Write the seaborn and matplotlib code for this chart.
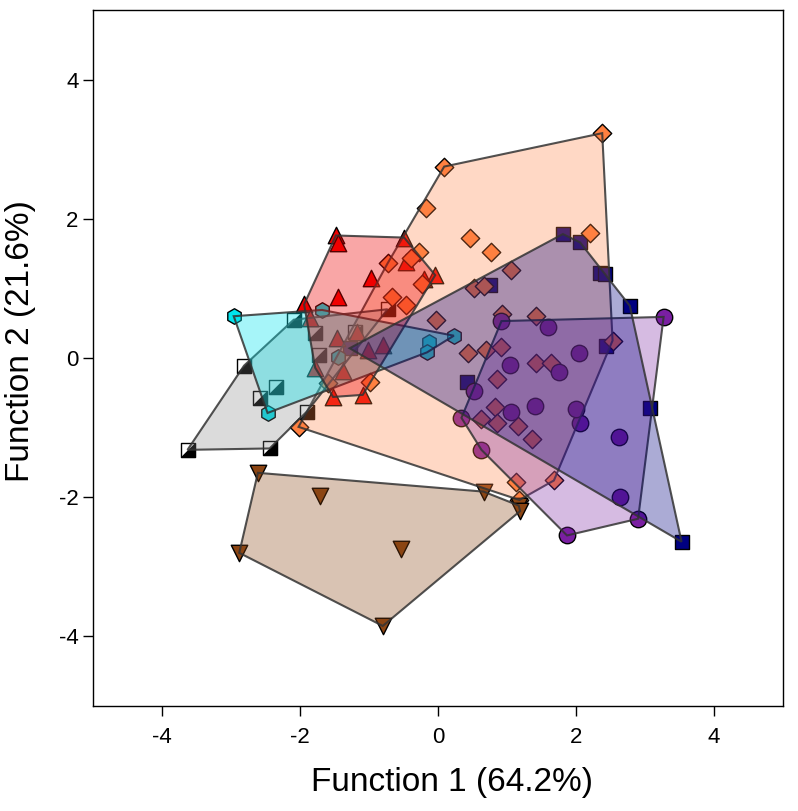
import numpy as np
import pandas as pd
import matplotlib
matplotlib.use("Agg")
import matplotlib.pyplot as plt
import matplotlib.colors as mcolors
from matplotlib.path import Path
from matplotlib.patches import Polygon
import seaborn as sns

# discriminant scores, one pair of lists per group
orange_x = [2.38, 0.09, -0.17, 0.47, 0.77, 2.21, -0.27, -0.39, -0.73, -0.23, -0.67, -0.46,
            -0.03, 1.06, 0.52, 0.67, 0.93, 1.42, 0.44, 0.70, 0.92, 1.42, 1.64, 0.85,
            0.83, 0.63, 0.86, 1.16, 1.36, 1.13, 1.68, 1.18, 2.53, -0.98, -1.60, -2.02]
orange_y = [3.23, 2.75, 2.16, 1.73, 1.52, 1.79, 1.52, 1.43, 1.36, 1.07, 0.87, 0.76,
            0.54, 1.26, 1.00, 1.03, 0.63, 0.61, 0.07, 0.11, 0.16, -0.07, -0.07, -0.30,
            -0.70, -0.88, -0.94, -0.98, -1.16, -1.78, -1.76, -2.04, 0.25, -0.35, -0.36, -0.99]

red_x = [-1.48, -1.45, -0.49, -0.97, -1.45, -1.94, -1.86, -0.46, -0.04, -0.20, -1.18,
         -1.46, -1.02, -0.80, -1.78, -1.38, -1.52, -1.09]
red_y = [1.76, 1.65, 1.73, 1.15, 0.88, 0.77, 0.57, 1.38, 1.19, 1.13, 0.37,
         0.29, 0.12, 0.19, -0.14, -0.18, -0.56, -0.53]

cyan_x = [-2.96, -2.47, -1.68, -1.45, 0.23, -0.13, -0.16]
cyan_y = [0.60, -0.79, 0.69, 0.02, 0.32, 0.23, 0.08]

half_x = [-3.63, -2.44, -2.81, -2.58, -2.35, -2.09, -1.90, -1.78, -1.73, -0.73, -1.20]
half_y = [-1.32, -1.30, -0.11, -0.57, -0.42, 0.55, -0.77, 0.36, 0.04, 0.70, 0.37]

brown_x = [-2.61, -1.71, -2.88, -0.53, -0.80, 0.66, 1.17, 1.19]
brown_y = [-1.65, -1.99, -2.80, -2.75, -3.85, -1.92, -2.12, -2.20]

purple_x = [3.27, 2.90, 1.87, 2.64, 2.62, 2.06, 2.00, 2.05, 1.75, 1.59, 0.92, 1.05,
            0.52, 1.40, 1.06, 0.34, 0.63]
purple_y = [0.59, -2.31, -2.55, -2.00, -1.14, -0.93, -0.73, 0.07, -0.20, 0.45, 0.53, -0.10,
            -0.48, -0.69, -0.78, -0.86, -1.32]

navy_x = [3.53, 3.07, 2.78, 2.44, 2.35, 2.42, 1.81, 2.06, 0.76, 0.42, -1.28]
navy_y = [-2.64, -0.72, 0.75, 0.17, 1.22, 1.20, 1.78, 1.66, 1.05, -0.34, 0.14]

frames = []
for name, xs, ys in [("orange", orange_x, orange_y), ("red", red_x, red_y),
                     ("cyan", cyan_x, cyan_y), ("half", half_x, half_y),
                     ("brown", brown_x, brown_y), ("purple", purple_x, purple_y),
                     ("navy", navy_x, navy_y)]:
    frames.append(pd.DataFrame({"f1": xs, "f2": ys, "group": name}))
df = pd.concat(frames, ignore_index=True)

colors = {"orange": "#ff8040", "red": "#f00000", "cyan": "#00e5ee", "half": "#808080",
          "brown": "#8b4513", "purple": "#7a1fa2", "navy": "#000080"}
hull_alpha = {"orange": 0.3, "red": 0.35, "cyan": 0.35, "half": 0.28,
              "brown": 0.32, "purple": 0.3, "navy": 0.33}
markers = {"orange": "D", "red": "^", "cyan": "h", "half": "s",
           "brown": "v", "purple": "o", "navy": "s"}
sizes = {"orange": 88, "red": 140, "cyan": 125, "half": 100,
         "brown": 140, "purple": 140, "navy": 105}


def convex_hull(pts):
    pts = sorted(set(map(tuple, pts)))
    def cross(o, a, b):
        return (a[0] - o[0]) * (b[1] - o[1]) - (a[1] - o[1]) * (b[0] - o[0])
    lower, upper = [], []
    for p in pts:
        while len(lower) >= 2 and cross(lower[-2], lower[-1], p) <= 0:
            lower.pop()
        lower.append(p)
    for p in reversed(pts):
        while len(upper) >= 2 and cross(upper[-2], upper[-1], p) <= 0:
            upper.pop()
        upper.append(p)
    return np.array(lower[:-1] + upper[:-1])


sns.set_style("ticks")
plt.rcParams["font.family"] = ["Liberation Sans", "DejaVu Sans"]
plt.rcParams["axes.unicode_minus"] = False
plt.rcParams["text.color"] = "black"
plt.rcParams["axes.labelcolor"] = "black"
plt.rcParams["xtick.color"] = "black"
plt.rcParams["ytick.color"] = "black"

fig = plt.figure(figsize=(7.98, 8.11), dpi=100)
ax = fig.add_axes([0.1165, 0.1295, 0.8647, 0.8582])

# points first
half_tri = Path([(-1, -1), (1, -1), (1, 1), (-1, -1)],
                [Path.MOVETO, Path.LINETO, Path.LINETO, Path.CLOSEPOLY])
for g in ["navy", "half", "cyan", "red", "orange", "brown", "purple"]:
    sub = df[df["group"] == g]
    if g == "half":
        sns.scatterplot(data=sub, x="f1", y="f2", marker="s", s=sizes[g], color="white",
                        edgecolor="black", linewidth=1, ax=ax, legend=False, zorder=2)
        sns.scatterplot(data=sub, x="f1", y="f2", marker=half_tri, s=sizes[g], color="black",
                        edgecolor="black", linewidth=0.8, ax=ax, legend=False, zorder=2)
    else:
        sns.scatterplot(data=sub, x="f1", y="f2", marker=markers[g], s=sizes[g],
                        color=colors[g], edgecolor="black", linewidth=1, ax=ax,
                        legend=False, zorder=2)

# hulls on top, translucent
for g in ["orange", "half", "cyan", "red", "brown", "purple", "navy"]:
    sub = df[df["group"] == g]
    hull = convex_hull(sub[["f1", "f2"]].values)
    ax.add_patch(Polygon(hull, closed=True, facecolor=mcolors.to_rgba(colors[g], hull_alpha[g]),
                         edgecolor=(0.2, 0.2, 0.2, 0.85), linewidth=1.5, zorder=3))

ax.set_xlim(-5, 5)
ax.set_ylim(-5, 5)
ax.set_xticks([-4, -2, 0, 2, 4])
ax.set_yticks([-4, -2, 0, 2, 4])
ax.tick_params(labelsize=16, length=7, width=1, color="black", labelcolor="black")
ax.tick_params(axis="x", pad=8)
for sp in ax.spines.values():
    sp.set_linewidth(1)
    sp.set_color("black")
ax.set_xlabel("Function 1 (64.2%)", fontsize=24)
ax.set_ylabel("Function 2 (21.6%)", fontsize=24)
ax.xaxis.set_label_coords(0.52, -0.087)
ax.yaxis.set_label_coords(-0.083, 0.525)

fig.savefig("out.png", dpi=100)
